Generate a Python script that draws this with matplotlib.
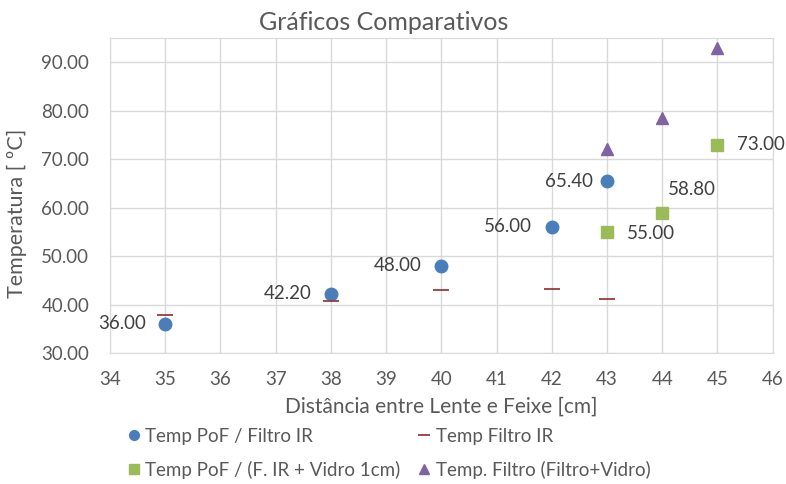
import matplotlib
matplotlib.use("Agg")
import matplotlib.pyplot as plt
from matplotlib.lines import Line2D

plt.rcParams['font.family'] = ['Lato', 'DejaVu Sans']

# Distance (cm) and temperature (ºC) series
x_pof_ir = [35, 38, 40, 42, 43]
y_pof_ir = [36.00, 42.20, 48.00, 56.00, 65.40]

x_filtro_ir = [35, 38, 40, 42, 43]
y_filtro_ir = [37.8, 40.8, 42.9, 43.2, 41.1]

x_pof_vidro = [43, 44, 45]
y_pof_vidro = [55.00, 58.80, 73.00]

x_filtro_vidro = [43, 44, 45]
y_filtro_vidro = [72.0, 78.5, 93.0]

x_ticks = list(range(34, 47))
y_ticks = [30, 40, 50, 60, 70, 80, 90]

TEXT = '#595959'
LABEL = '#404040'
GRID = '#D9D9D9'
BLUE = '#4A7EBB'
RED = '#993B3B'
GREEN = '#9BBB59'
PURPLE = '#8064A2'
FS = 13.5

fig = plt.figure(figsize=(7.86, 4.84), dpi=100)
ax = fig.add_axes([0.140, 0.2707, 0.843, 0.651])

ax.set_xlim(34, 46)
ax.set_ylim(30, 95)
ax.set_xticks(x_ticks)
ax.set_yticks(y_ticks)
ax.set_yticklabels([f'{v:.2f}' for v in y_ticks])
ax.grid(True, color=GRID, linewidth=1)
ax.set_axisbelow(True)
for s in ax.spines.values():
    s.set_color(GRID)
ax.tick_params(length=0, labelsize=FS, colors=TEXT)
ax.tick_params(axis='y', pad=15)
ax.tick_params(axis='x', pad=13)

ax.plot(x_pof_ir, y_pof_ir, 'o', color=BLUE, markersize=9, zorder=3)
ax.plot(x_filtro_ir, y_filtro_ir, '_', color=RED, markersize=11, mew=1.3, zorder=3)
ax.plot(x_pof_vidro, y_pof_vidro, 's', color=GREEN, markersize=8.5, zorder=3)
ax.plot(x_filtro_vidro, y_filtro_vidro, '^', color=PURPLE, markersize=9, zorder=3)

blue_offsets = [(-14, 0), (-14, 0), (-14, 0), (-14, 0), (-10, 0)]
for xv, yv, off in zip(x_pof_ir, y_pof_ir, blue_offsets):
    ax.annotate(f'{yv:.2f}', (xv, yv), xytext=off, textcoords='offset points',
                ha='right', va='center', fontsize=FS, color=LABEL)

green_offsets = [(14, -1), (4, 17), (14, 0)]
for xv, yv, off in zip(x_pof_vidro, y_pof_vidro, green_offsets):
    ax.annotate(f'{yv:.2f}', (xv, yv), xytext=off, textcoords='offset points',
                ha='left', va='center', fontsize=FS, color=LABEL)

fig.text(384 / 786, 1 - 22 / 484, 'Gráficos Comparativos', fontsize=18,
         color=TEXT, ha='center', va='center')
fig.text(441 / 786, 1 - 407 / 484, 'Distância entre Lente e Feixe [cm]',
         fontsize=15, color=TEXT, ha='center', va='center')
fig.text(17 / 786, 1 - 213 / 484, 'Temperatura [ ºC]', fontsize=15.5,
         color=TEXT, ha='center', va='center', rotation=90)

handles = [
    Line2D([], [], linestyle='none', marker='o', color=BLUE, markersize=7),
    Line2D([], [], linestyle='none', marker='s', color=GREEN, markersize=7),
    Line2D([], [], linestyle='none', marker='_', color=RED, markersize=9, mew=1.3),
    Line2D([], [], linestyle='none', marker='^', color=PURPLE, markersize=7),
]
labels = ['Temp PoF / Filtro IR', 'Temp PoF / (F. IR + Vidro 1cm)',
          'Temp Filtro IR', 'Temp. Filtro (Filtro+Vidro)']
leg = fig.legend(handles, labels, ncol=2, loc='upper left',
                 bbox_to_anchor=(128 / 786, 1 - 428 / 484),
                 frameon=False, fontsize=FS, handlelength=0.6, handletextpad=0.32,
                 columnspacing=0.95, labelspacing=0.85, borderaxespad=0, borderpad=0)
for t in leg.get_texts():
    t.set_color(TEXT)

fig.savefig('out.png', dpi=100)
